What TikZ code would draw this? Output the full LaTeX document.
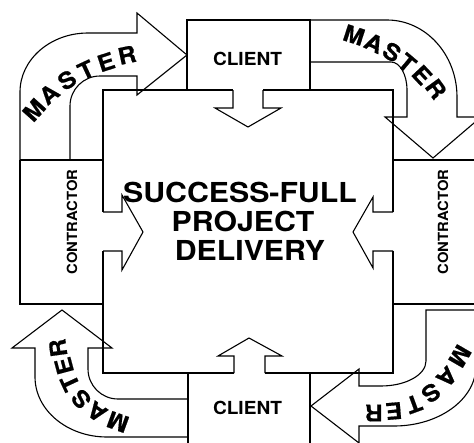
\documentclass[tikz,border=0pt]{standalone}
\usepackage{fontspec}
\setmainfont{texgyreheros}[Extension=.otf,UprightFont=*-regular,BoldFont=*-bold]
\newfontfamily\titlefont{texgyreheros}[Extension=.otf,UprightFont=*-bold,FakeStretch=1.1]
\newfontfamily\labelfont{texgyreheros}[Extension=.otf,UprightFont=*-bold,FakeStretch=1.06]
\newfontfamily\masterfont{texgyreheros}[Extension=.otf,UprightFont=*-bold,FakeStretch=1.08,FakeBold=0.6]
\begin{document}
\begin{tikzpicture}[x=1pt,y=1pt,line join=miter,
  heavy/.style={line width=2.4pt},
  medium/.style={line width=1.6pt},
  light/.style={line width=1.1pt},
  titletext/.style={font=\titlefont\fontsize{27.5}{29}\selectfont,inner sep=0pt,anchor=base},
  clientlabel/.style={font=\labelfont\fontsize{18}{18}\selectfont,inner sep=0pt},
  contractorlabel/.style={font=\labelfont\fontsize{14}{14}\selectfont,inner sep=0pt,rotate=90},
  masterletter/.style={font=\masterfont\fontsize{23}{23}\selectfont,inner sep=0pt}
]
\useasboundingbox (0,0) rectangle (474,-442);
\fill[white] (0,0) rectangle (474,-442);
\clip (0,0) rectangle (474,-442);

% central square with the four openings for the inward arrows
\draw[heavy] (103,-212) -- (103,-90) -- (233,-90);
\draw[heavy] (263,-90) -- (393,-90) -- (393,-212);
\draw[heavy] (393,-251) -- (393,-373) -- (265,-373);
\draw[heavy] (234,-373) -- (103,-373) -- (103,-251);

% client boxes
\draw[heavy] (187,-90) -- (187,-20) -- (310,-20) -- (310,-90);
\draw[heavy] (188,-373) -- (188,-446);
\draw[medium] (310,-373) -- (310,-446);

% contractor boxes
\draw[heavy] (103,-160) -- (20,-160);
\draw[medium] (20,-160) -- (20,-304) -- (103,-304);
\draw[heavy] (393,-160) -- (478,-160);
\draw[medium] (393,-304) -- (478,-304);

% short arrows pointing into the centre
\draw[light] (233,-90) -- (233,-108) -- (215,-108) -- (248,-127) -- (281,-108) -- (263,-108) -- (263,-90);
\draw[light] (234,-373) -- (234,-356) -- (218,-356) -- (249,-338) -- (282,-356) -- (265,-356) -- (265,-373);
\draw[light] (103,-212) -- (122,-212) -- (122,-195) -- (143,-232) -- (122,-270) -- (122,-251) -- (103,-251);
\draw[light] (393,-212) -- (373,-212) -- (373,-197) -- (353,-232) -- (373,-268) -- (373,-251) -- (393,-251);

% curved MASTER arrows
\draw[light] (20,-160) -- (20,-92) arc[start angle=180,end angle=90,x radius=68,y radius=59]
  -- (137,-33) -- (137,-13) -- (187,-55) -- (137,-95) -- (137,-76) -- (100,-76)
  arc[start angle=90,end angle=180,radius=30] -- (70,-160);
\draw[light] (310,-20) -- (387,-20) arc[start angle=90,end angle=0,x radius=70,y radius=77]
  -- (457,-117) -- (481,-117) -- (433,-158) -- (385,-117) -- (407,-117) -- (407,-90)
  arc[start angle=0,end angle=90,x radius=16,y radius=28] -- (310,-62);
\draw[light] (188,-437) -- (107,-437) arc[start angle=270,end angle=180,x radius=72,y radius=60]
  -- (35,-348) -- (12,-348) -- (62,-310) -- (112,-348) -- (88,-348) -- (88,-369)
  arc[start angle=180,end angle=270,radius=30] -- (188,-399);
\draw[light] (478,-310) -- (426,-310) -- (426,-361) arc[start angle=0,end angle=-90,x radius=45,y radius=25]
  -- (359,-386) -- (359,-369) -- (311,-406) -- (359,-443) -- (359,-426) -- (394,-426)
  arc[start angle=-90,end angle=0,x radius=82,y radius=60] -- (476,-310);

% MASTER lettering, one rotated letter at a time along each band
\foreach \ch/\px/\py/\rot [count=\i] in
  {M/34/110/48, A/49/94/40, S/67/80/32, T/86/70/25, E/106/62/18, R/127/55/12}
  \node[masterletter,rotate=\rot] (mastertl\i) at (\px,-\py) {\ch};
\foreach \ch/\px/\py/\rot [count=\i] in
  {M/354/35/-18, A/374/43/-25, S/392/52/-32, T/407/63/-40, E/422/75/-47, R/436/89/-54}
  \node[masterletter,rotate=\rot] (mastertr\i) at (\px,-\py) {\ch};
\foreach \ch/\px/\py/\rot [count=\i] in
  {M/118/422/160, A/97/412/145, S/81/399/130, T/70/383/115, E/64/366/105, R/58/348/98}
  \node[masterletter,rotate=\rot] (masterbl\i) at (\px,-\py) {\ch};
\foreach \ch/\px/\py/\rot [count=\i] in
  {M/460/356/-120, A/447/377/-135, S/431/393/-145, T/414/404/-160, E/394/411/-175, R/374/413/180}
  \node[masterletter,rotate=\rot] (masterbr\i) at (\px,-\py) {\ch};

% labels
\node[titletext] (t1) at (240,-202) {SUCCESS-FULL};
\node[titletext] (t2) at (243,-231) {PROJECT};
\node[titletext] (t3) at (250,-260) {DELIVERY};
\node[clientlabel] (clienttop) at (247.5,-58.7) {CLIENT};
\node[clientlabel] (clientbottom) at (247.5,-407.5) {CLIENT};
\node[contractorlabel] (contractorleft) at (72,-222) {CONTRACTOR};
\node[contractorlabel] (contractorright) at (443,-222) {CONTRACTOR};
\end{tikzpicture}
\end{document}
